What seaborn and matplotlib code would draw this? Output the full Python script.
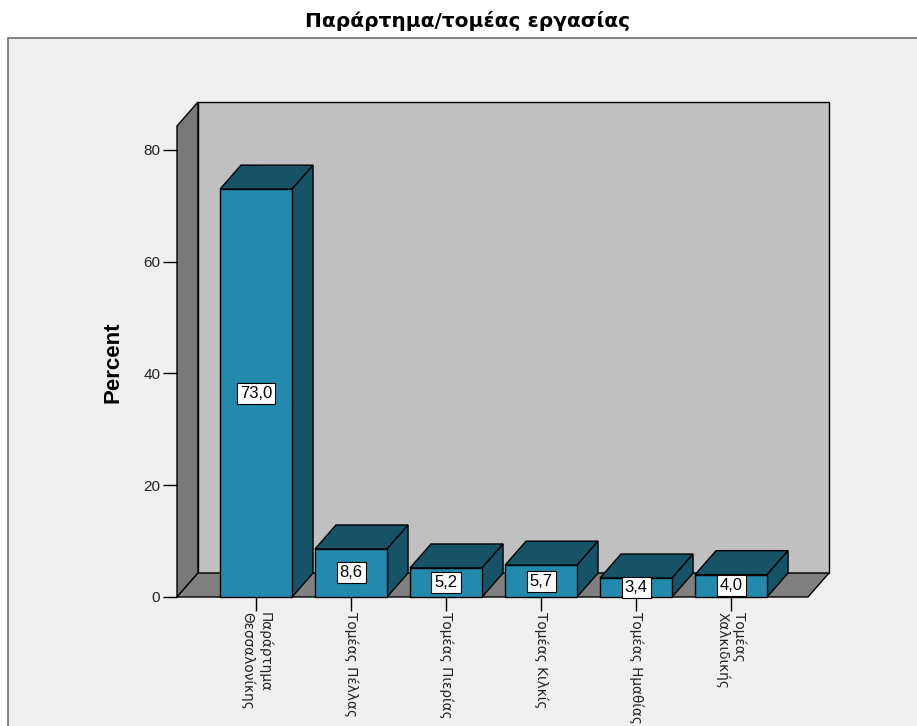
import matplotlib
matplotlib.use("Agg")
import matplotlib.pyplot as plt
from matplotlib.patches import Polygon, Rectangle
import seaborn as sns
import pandas as pd

categories = [
    "Παράρτημα\nΘεσσαλονίκης",
    "Τομέας Πέλλας",
    "Τομέας Πιερίας",
    "Τομέας Κιλκίς",
    "Τομέας Ημαθίας",
    "Τομέας\nΧαλκιδικής",
]
percent = [73.0, 8.6, 5.2, 5.7, 3.4, 4.0]
value_labels = ["73,0", "8,6", "5,2", "5,7", "3,4", "4,0"]
yticks = [0, 20, 40, 60, 80]

title = "Παράρτημα/τομέας εργασίας"
ylabel = "Percent"

# colours
FRONT = "#2389ad"
DARK = "#175367"
BACK_WALL = "#c0c0c0"
SIDE_WALL = "#787878"
FLOOR = "#808080"
PANEL = "#f0f0f0"

# pseudo-3D box geometry in data units
X_LEFT = -0.832
X_RIGHT = 5.81
DX = 0.221
DY = 4.29
Y_TOP = 84.3

plt.rcParams["font.family"] = ["DejaVu Sans"]

fig = plt.figure(figsize=(9.17, 7.26), dpi=100, facecolor="white")
fig.add_artist(Rectangle((8 / 917, -0.02), 1.0, (726 - 38) / 726 + 0.02,
                         transform=fig.transFigure, facecolor=PANEL,
                         edgecolor="#6e6e6e", linewidth=1.2, zorder=-10))
fig.text(468 / 917, 1 - 21 / 726, title, ha="center", va="center",
         fontsize=14.5, family="DejaVu Sans", fontweight="bold",
         color="black")

ax = fig.add_axes([177 / 917, 129 / 726, 652 / 917, 495 / 726])
ax.set_facecolor("none")

df = pd.DataFrame({"cat": categories, "pct": percent})
sns.barplot(data=df, x="cat", y="pct", color=FRONT, saturation=1,
            width=0.758, edgecolor="black", linewidth=1.0, ax=ax,
            errorbar=None)

# walls and floor
wall_kw = dict(edgecolor="black", linewidth=1.0, zorder=0.3, clip_on=False)
ax.add_patch(Polygon([(X_LEFT + DX, DY), (X_RIGHT + DX, DY),
                      (X_RIGHT + DX, Y_TOP + DY), (X_LEFT + DX, Y_TOP + DY)],
                     facecolor=BACK_WALL, **wall_kw))
ax.add_patch(Polygon([(X_LEFT, 0), (X_LEFT + DX, DY),
                      (X_LEFT + DX, Y_TOP + DY), (X_LEFT, Y_TOP)],
                     facecolor=SIDE_WALL, **wall_kw))
ax.add_patch(Polygon([(X_LEFT, 0), (X_RIGHT, 0),
                      (X_RIGHT + DX, DY), (X_LEFT + DX, DY)],
                     facecolor=FLOOR, **wall_kw))

# depth faces of each bar, then labels
for bar, lab in zip(list(ax.patches)[:len(percent)], value_labels):
    x0 = bar.get_x()
    w = bar.get_width()
    h = bar.get_height()
    x1 = x0 + w
    bar.set_zorder(3)
    bar.set_clip_on(False)
    ax.add_patch(Polygon([(x0, h), (x1, h), (x1 + DX, h + DY), (x0 + DX, h + DY)],
                         facecolor=DARK, edgecolor="black", linewidth=1.0,
                         zorder=2, clip_on=False))
    ax.add_patch(Polygon([(x1, 0), (x1 + DX, DY), (x1 + DX, h + DY), (x1, h)],
                         facecolor=DARK, edgecolor="black", linewidth=1.0,
                         zorder=2, clip_on=False))
    ax.text(x0 + w / 2, h / 2, lab, ha="center", va="center", fontsize=12,
            family="Liberation Sans", color="black", zorder=5,
            bbox=dict(boxstyle="square,pad=0.18", facecolor="white",
                      edgecolor="black", linewidth=0.8))

ax.set_xlim(X_LEFT, X_RIGHT + DX)
ax.set_ylim(0, Y_TOP + DY)
ax.set_yticks(yticks)
ax.set_yticklabels([str(t) for t in yticks], fontsize=11,
                   family="Liberation Sans", color="#222222")
ax.set_xticks(range(len(categories)))
ax.set_xticklabels(categories, rotation=-90, ha="center", va="top",
                   multialignment="left", linespacing=1.25,
                   fontsize=9.8, color="#222222")
ax.tick_params(axis="y", length=10, width=1, color="black", pad=2)
ax.tick_params(axis="x", length=10, width=1, color="black", pad=0.5)
for s in ax.spines.values():
    s.set_visible(False)
ax.set_xlabel("")
ax.set_ylabel(ylabel, fontsize=16, fontweight="bold",
              family="Liberation Sans", labelpad=0)
ax.yaxis.set_label_coords((123 - 177) / 652, (726 - 362 - 129) / 495)

fig.savefig("out.png", dpi=100, facecolor="white")
